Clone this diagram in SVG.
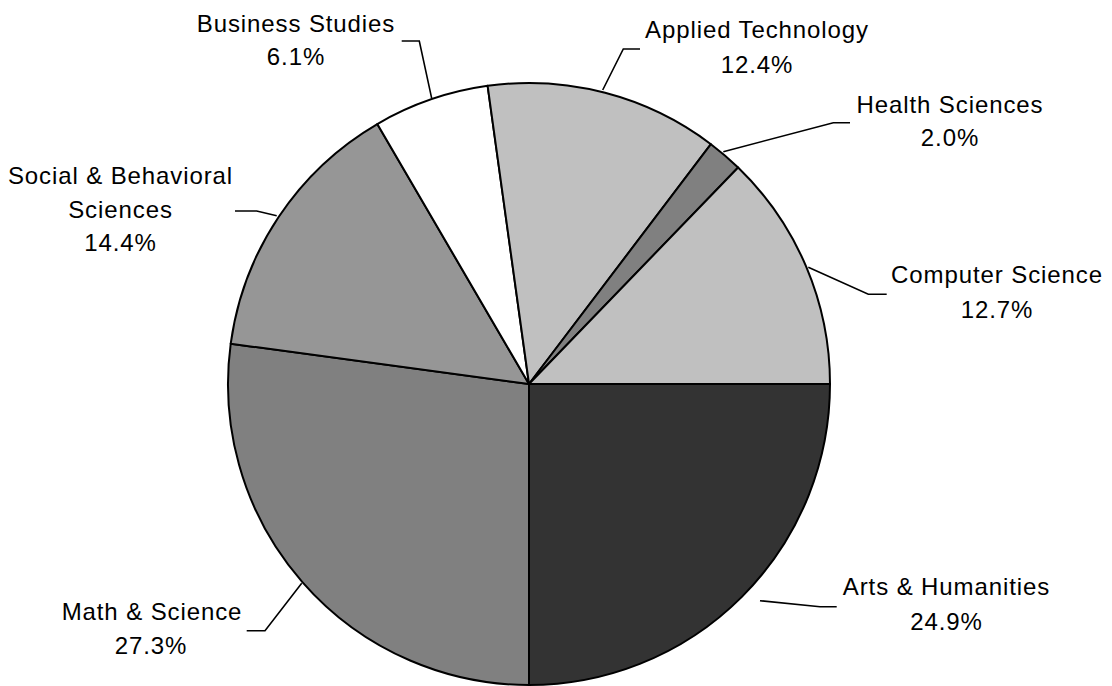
<svg xmlns="http://www.w3.org/2000/svg" width="1112" height="686" viewBox="0 0 1112 686">
<style>
.slice{stroke:#000;stroke-width:2;stroke-linejoin:round}
.lead{fill:none;stroke:#000;stroke-width:1.6}
text{font-family:"Liberation Sans",Arial,sans-serif;font-size:24px;letter-spacing:0.9px;fill:#000;text-anchor:middle}
</style>
<rect width="1112" height="686" fill="#fff"/>
<g id="slice-arts"><path class="slice" fill="#333333" d="M529,384 L830,384 A301,301 0 0 1 529,685 Z"/></g>
<g id="slice-math"><path class="slice" fill="#808080" d="M529,384 L529,685 A301,301 0 0 1 230.71,343.72 Z"/></g>
<g id="slice-social"><path class="slice" fill="#969696" d="M529,384 L230.71,343.72 A301,301 0 0 1 377.30,124.02 Z"/></g>
<g id="slice-business"><path class="slice" fill="#ffffff" d="M529,384 L377.30,124.02 A301,301 0 0 1 487.63,85.86 Z"/></g>
<g id="slice-applied"><path class="slice" fill="#c0c0c0" d="M529,384 L487.63,85.86 A301,301 0 0 1 710.92,144.19 Z"/></g>
<g id="slice-health"><path class="slice" fill="#808080" d="M529,384 L710.92,144.19 A301,301 0 0 1 738.10,167.48 Z"/></g>
<g id="slice-computer"><path class="slice" fill="#c0c0c0" d="M529,384 L738.10,167.48 A301,301 0 0 1 830,384 Z"/></g>
<g id="connectors">
<polyline class="lead" points="401.7,41 419.3,41 431.7,98.3"/>
<polyline class="lead" points="640,49 623.3,49 602.7,90"/>
<polyline class="lead" points="850,122.7 833.3,122.7 723.3,151.7"/>
<polyline class="lead" points="235,211 256.7,211 276.7,215.7"/>
<polyline class="lead" points="886.7,294.3 868.3,294.3 808.3,267.3"/>
<polyline class="lead" points="246.7,630.7 265,630.7 301.7,583.3"/>
<polyline class="lead" points="836.7,606.7 820,606.7 760,600.7"/>
</g>
<g id="label-business"><text x="296" y="32">Business Studies</text><text x="296" y="65">6.1%</text></g>
<g id="label-applied"><text x="757" y="38">Applied Technology</text><text x="757" y="72.5">12.4%</text></g>
<g id="label-health"><text x="950" y="112.5">Health Sciences</text><text x="950" y="145.5">2.0%</text></g>
<g id="label-social"><text x="120.5" y="184.3">Social &amp; Behavioral</text><text x="120.5" y="217.7">Sciences</text><text x="120.5" y="251">14.4%</text></g>
<g id="label-computer"><text x="997" y="283.3">Computer Science</text><text x="997" y="318.3">12.7%</text></g>
<g id="label-math"><text x="152" y="620">Math &amp; Science</text><text x="151" y="654">27.3%</text></g>
<g id="label-arts"><text x="946.5" y="595">Arts &amp; Humanities</text><text x="946.5" y="630">24.9%</text></g>
</svg>
